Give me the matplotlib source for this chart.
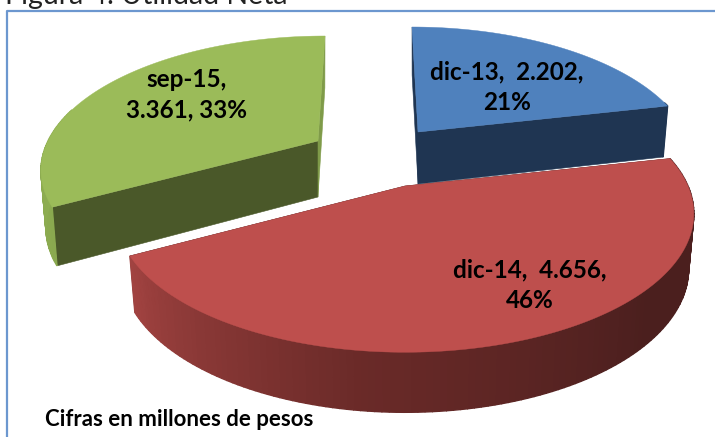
import numpy as np
import matplotlib
matplotlib.use("Agg")
import matplotlib.pyplot as plt
from matplotlib.colors import to_rgb

plt.rcParams['font.family'] = ['Lato', 'DejaVu Sans']

categories = ["dic-13", "dic-14", "sep-15"]
values = [2202, 4656, 3361]
percents = [21, 46, 33]
label_breaks = [2, 2, 1]  # fields on the first line of each label


# pixel geometry of each exploded slice: apex x, apex y, radius x, radius y, perspective, shear, depth
geom = {
    "dic-13": (418, 132, 268, 126, 0.2, -6, 52),
    "dic-14": (405, 186, 283, 133, 0.2, 0, 54),
    "sep-15": (318, 141, 270, 126, 0.2, 7, 56),
}
top_col = {"dic-13": "#4f81bd", "dic-14": "#be4f4d", "sep-15": "#9bbb59"}
cut_col = {"dic-13": "#1f3552", "dic-14": "#4b1f1e", "sep-15": "#4a5829"}
side_col = {"dic-13": "#1f3552", "dic-14": "#4b1f1e", "sep-15": "#7f9b49"}
wall_cols = {
    "dic-13": ["#1f3552", "#1f3552"],
    "dic-14": ["#4b1f1e", "#4b1f1e", "#6a2a28", "#a24341"],
    "sep-15": ["#8aa94f", "#9bbb59"],
}
label_pos = {"dic-13": (507, 72), "dic-14": (530, 270), "sep-15": (186, 80)}


def project(name, theta, r=1.0, bottom=False):
    cx, cy, rx, ry, k, shear, depth = geom[name]
    big_x, big_y = r * np.sin(theta), r * np.cos(theta)
    w = 1 / (1 + k * big_y)
    x = cx + rx * big_x * w + shear * big_y
    y = cy - ry * big_y * w
    if bottom:
        x = cx + (x - cx) * 0.982
        y = y + depth * (0.55 + 0.45 * w)
    return x, y


def mix(cols, t):
    pos = t * (len(cols) - 1)
    i = min(int(pos), len(cols) - 2)
    f = pos - i
    a, b = np.array(to_rgb(cols[i])), np.array(to_rgb(cols[i + 1]))
    return a + (b - a) * f


fig = plt.figure(figsize=(7.15, 4.37), dpi=100)
ax = fig.add_axes([0, 0, 1, 1])
ax.set_xlim(0, 715)
ax.set_ylim(437, 0)
ax.axis('off')

# outer frame, open on the right and at the bottom
ax.plot([7, 7, 715], [437, 10.5, 10.5], color="#6c97cf", lw=1.6, solid_capstyle='butt')
ax.text(5, 4, "Figura 4. Utilidad Neta", fontsize=20.5, color="#222222", va='baseline', ha='left')

total = sum(values)
edges = np.concatenate([[0], np.cumsum(values)]) / total * 2 * np.pi


def draw_slice(i):
    name = categories[i]
    a0, a1 = edges[i], edges[i + 1]

    # radial faces
    for a, col in ((a0, cut_col[name] if i else side_col[name]), (a1, cut_col[name] if i < 2 else side_col[name])):
        p = [project(name, a, 0), project(name, a), project(name, a, bottom=True), project(name, a, 0, True)]
        ax.fill([q[0] for q in p], [q[1] for q in p], color=col, lw=0.4)

    # outer wall, in thin strips so the shading can change along it
    th = np.linspace(a0, a1, 140)
    for j in range(len(th) - 1):
        if np.cos(th[j]) > 0.25:
            continue
        t = (j + 0.5) / (len(th) - 1)
        col = mix(wall_cols[name], t)
        p = [project(name, th[j]), project(name, th[j + 1]),
             project(name, th[j + 1], bottom=True), project(name, th[j], bottom=True)]
        ax.fill([q[0] for q in p], [q[1] for q in p], facecolor=col, edgecolor=col, lw=1.0)

    # top face
    x, y = project(name, th)
    ax.fill(np.r_[project(name, a0, 0)[0], x], np.r_[project(name, a0, 0)[1], y],
            color=top_col[name], lw=0.3)


# back slices first, the big red one sits in front
for i in (2, 0, 1):
    draw_slice(i)

for i, name in enumerate(categories):
    val = f"{values[i]:,}".replace(",", ".")
    parts = [f"{name},", f"{val},", f"{percents[i]}%"]
    n = label_breaks[i]
    txt = "  ".join(parts[:n]) + "\n" + " ".join(parts[n:])
    lx, ly = label_pos[name]
    ax.text(lx, ly + 15, txt, fontsize=17.5, fontweight='bold', ha='center', va='center',
            color="black", linespacing=1.38)

ax.text(45, 420, "Cifras en millones de pesos", fontsize=16, fontweight='bold', ha='left', va='center', color="black")

fig.savefig("out.png", dpi=100)
